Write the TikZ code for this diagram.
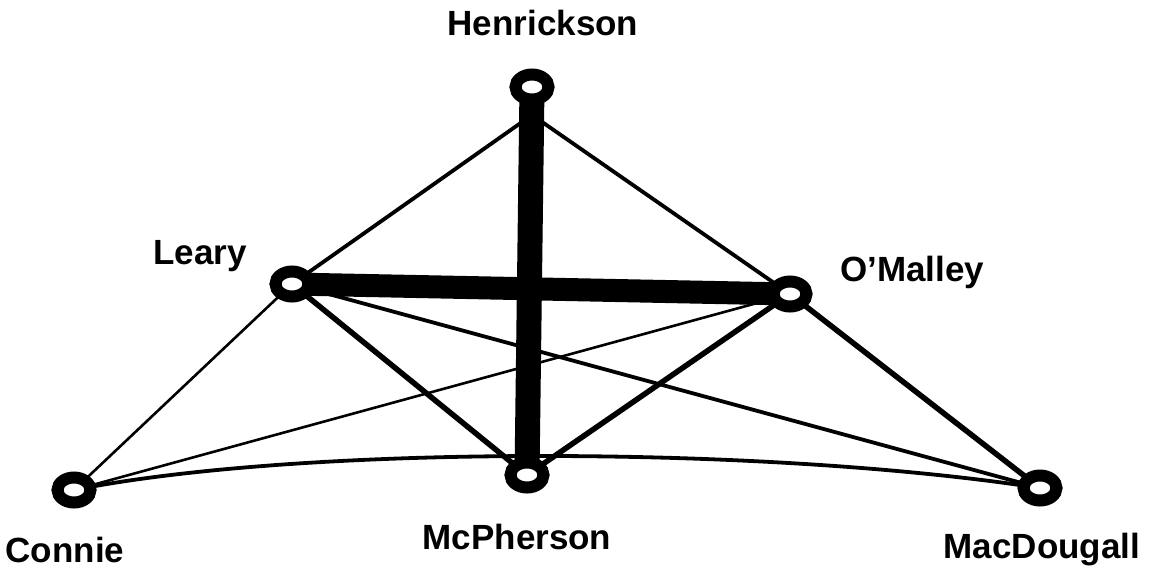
\documentclass[tikz,border=0pt]{standalone}
\usepackage{fontspec}
\setmainfont{Liberation Sans}
\usetikzlibrary{shapes.geometric,backgrounds,calc}
\tikzset{
  ring/.style={ellipse, draw=black, fill=white, line width=12pt, minimum width=33pt, minimum height=25pt, inner sep=0pt},
  lbl/.style={font=\fontsize{35}{38}\selectfont\bfseries, inner sep=0pt},
  heavy/.style={line width=25pt},
  medium/.style={line width=5.5pt},
  light/.style={line width=3.8pt},
  thin/.style={line width=2.6pt}
}
\begin{document}
\begin{tikzpicture}[x=1pt,y=-1pt]
\useasboundingbox (0,0) rectangle (1150,571);
% nodes
\node[ring] (H) at (532,87) {};
\node[ring] (L) at (292,284) {};
\node[ring] (O) at (790,294) {};
\node[ring] (C) at (74,490) {};
\node[ring] (P) at (527,475) {};
\node[ring] (M) at (1040,488) {};
\coordinate (Hb) at ($(H.center)+(0,28)$);
% labels
\node[lbl] (tH) at (543,23) {Henrickson};
\node[lbl] (tL) at (200,256) {Leary};
\node[lbl] (tO) at (912,272) {O’Malley};
\node[lbl] (tC) at (65,550) {Connie};
\node[lbl] (tP) at (517,537) {McPherson};
\node[lbl] (tM) at (1042,550) {MacDougall};
% connectors
\begin{scope}[on background layer]
\fill[white] (0,0) rectangle (1150,571);
\draw[heavy] (H.center) -- (P.center);
\draw[heavy, line width=23pt] (L.center) -- (O.center);
\draw[light] (Hb) -- (L.center);
\draw[light] (Hb) -- (O.center);
\draw[thin] (L.center) -- (C.center);
\draw[medium] (L.center) -- (P.center);
\draw[light] (L.center) -- (M.center);
\draw[thin] (O.center) -- (C.center);
\draw[medium] (O.center) -- (P.center);
\draw[medium] (O.center) -- (M.center);
\draw[light] (C.center) .. controls (300,445) and (760,445) .. (M.center);
\end{scope}
\end{tikzpicture}
\end{document}
